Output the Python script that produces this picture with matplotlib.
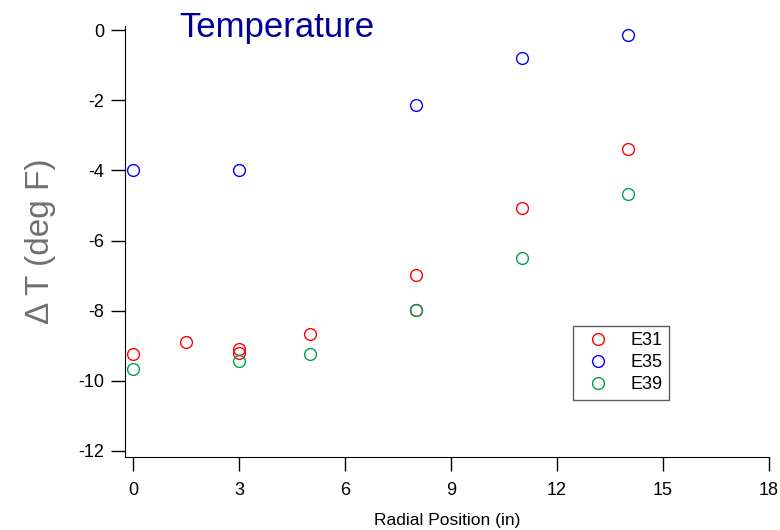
import numpy as np
import matplotlib
matplotlib.use('Agg')
import matplotlib.pyplot as plt

plt.rcParams['font.family'] = ['Liberation Sans', 'DejaVu Sans']
plt.rcParams['axes.unicode_minus'] = False

# data
e31_x = [0, 1.5, 3, 3, 5, 8, 8, 11, 14]
e31_y = [-9.24, -8.90, -9.09, -9.21, -8.67, -6.98, -7.97, -5.06, -3.39]
e35_x = [0, 3, 8, 11, 14]
e35_y = [-4.0, -4.0, -2.13, -0.78, -0.14]
e39_x = [0, 3, 5, 8, 11, 14]
e39_y = [-9.65, -9.44, -9.24, -7.97, -6.50, -4.68]

fig = plt.figure(figsize=(7.8, 5.3), dpi=100)
ax = fig.add_axes([0.160, 0.138, 0.826, 0.813])

ms = 8.5
ax.plot(e31_x, e31_y, 'o', mfc='none', mec='#ff0000', ms=ms, mew=1, label='E31')
ax.plot(e35_x, e35_y, 'o', mfc='none', mec='#0000ff', ms=ms, mew=1, label='E35')
ax.plot(e39_x, e39_y, 'o', mfc='none', mec='#00a050', ms=ms, mew=1, label='E39')

ax.set_xlim(-0.23, 18)
ax.set_ylim(-12.17, 0.12)
ax.set_xticks([0, 3, 6, 9, 12, 15, 18])
ax.set_yticks([0, -2, -4, -6, -8, -10, -12])
ax.spines['top'].set_visible(False)
ax.spines['right'].set_visible(False)
ax.tick_params(axis='x', length=10, width=1, labelsize=13, pad=8)
ax.tick_params(axis='y', length=10, width=1, labelsize=13, pad=5)

ax.set_xlabel('Radial Position (in)', fontsize=12.5, labelpad=10)
ax.set_ylabel('\u0394 T (deg F)', fontsize=24, color='#707070', labelpad=16)

fig.text(0.355, 0.948, 'Temperature', fontsize=25, color='#000099',
         ha='center', va='center')

leg = ax.legend(loc='upper left', bbox_to_anchor=(0.696, 0.304),
                borderaxespad=0, fontsize=13, frameon=True, fancybox=False,
                edgecolor='#333333', borderpad=0.35, handletextpad=0.8,
                labelspacing=0.28, handlelength=2.0)
leg.get_frame().set_linewidth(1)

fig.savefig('out.png', dpi=100)
